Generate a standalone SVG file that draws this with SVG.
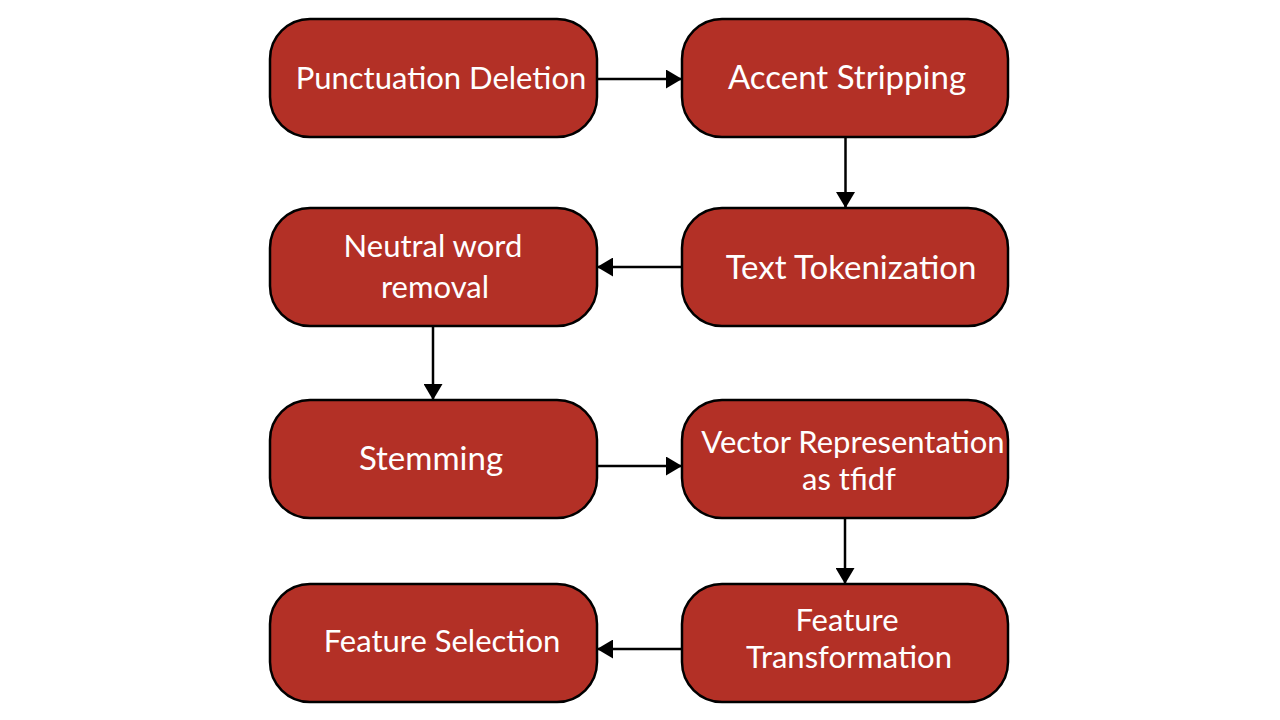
<svg xmlns="http://www.w3.org/2000/svg" width="1280" height="720" viewBox="0 0 1280 720">
<defs>
<style>
.box{fill:#B33026;stroke:#000;stroke-width:2.5}
.lbl{font-family:Lato,"Liberation Sans",sans-serif;font-size:31px;fill:#fff;text-anchor:middle}
.big{font-size:33px}
.con{stroke:#000;stroke-width:2.5;fill:none;marker-end:url(#ah)}
</style>
<marker id="ah" viewBox="0 0 10 10" refX="10" refY="5" markerWidth="16" markerHeight="19" markerUnits="userSpaceOnUse" orient="auto" preserveAspectRatio="none">
<path d="M0,0 L10,5 L0,10 Z" fill="#000"/>
</marker>
</defs>
<rect width="1280" height="720" fill="#fff"/>
<g id="connectors">
<line class="con" x1="597" y1="79" x2="682" y2="79"/>
<line class="con" x1="845.5" y1="138" x2="845.5" y2="208"/>
<line class="con" x1="682" y1="267" x2="597" y2="267"/>
<line class="con" x1="433" y1="326" x2="433" y2="400"/>
<line class="con" x1="597" y1="466" x2="682" y2="466"/>
<line class="con" x1="845" y1="518" x2="845" y2="584"/>
<line class="con" x1="682" y1="649" x2="597" y2="649"/>
</g>
<g id="n1"><rect class="box" x="270" y="19" width="327" height="118" rx="40"/><text class="lbl" x="441" y="89">Punctuation Deletion</text></g>
<g id="n2"><rect class="box" x="682" y="19" width="326" height="118" rx="40"/><text class="lbl big" x="847" y="89">Accent Stripping</text></g>
<g id="n3"><rect class="box" x="682" y="208" width="326" height="118" rx="40"/><text class="lbl big" x="851" y="279">Text Tokenization</text></g>
<g id="n4"><rect class="box" x="270" y="208" width="327" height="118" rx="40"/><text class="lbl" x="433" y="257">Neutral word</text><text class="lbl" x="435" y="298">removal</text></g>
<g id="n5"><rect class="box" x="270" y="400" width="327" height="118" rx="40"/><text class="lbl big" x="431" y="470">Stemming</text></g>
<g id="n6"><rect class="box" x="682" y="400" width="326" height="118" rx="40"/><text class="lbl" x="853" y="453">Vector Representation</text><text class="lbl" x="849" y="490">as tfidf</text></g>
<g id="n7"><rect class="box" x="682" y="584" width="326" height="118" rx="40"/><text class="lbl" x="847" y="631">Feature</text><text class="lbl" x="849" y="668">Transformation</text></g>
<g id="n8"><rect class="box" x="270" y="584" width="327" height="118" rx="40"/><text class="lbl" x="442" y="652">Feature Selection</text></g>
</svg>
